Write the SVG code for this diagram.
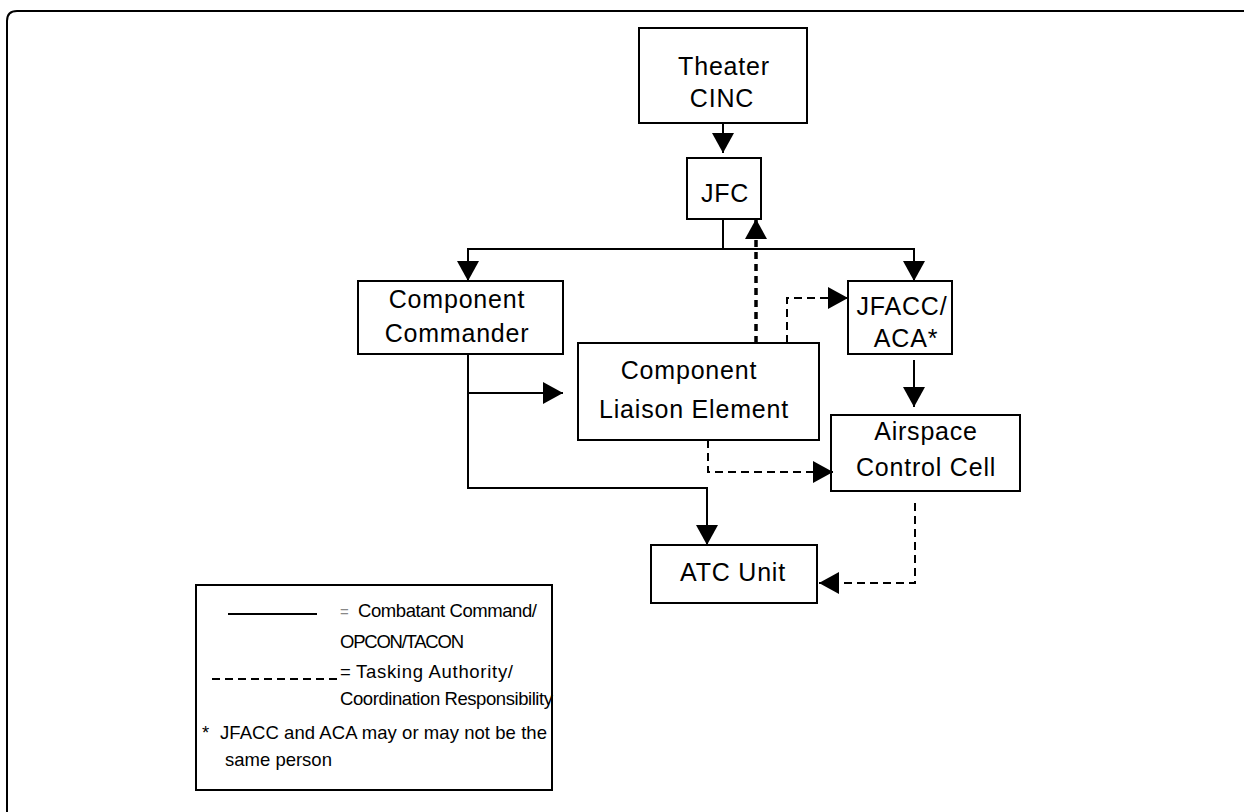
<svg xmlns="http://www.w3.org/2000/svg" width="1244" height="812" viewBox="0 0 1244 812">
<style>
.box{fill:#fff;stroke:#000;stroke-width:2}
.t{font-family:"Liberation Sans",Arial,sans-serif;font-size:25px;letter-spacing:0.8px;text-anchor:middle;fill:#000}
.lt{font-family:"Liberation Sans",Arial,sans-serif;font-size:18.5px;fill:#000}
.eq{font-family:"Liberation Sans",Arial,sans-serif;font-size:15px;fill:#888}
.solid{fill:none;stroke:#000;stroke-width:2}
.dash{fill:none;stroke:#000;stroke-width:2;stroke-dasharray:8 5}
.dashb{fill:none;stroke:#000;stroke-width:3.5;stroke-dasharray:7 5}
</style>
<defs>
<marker id="ah" markerUnits="userSpaceOnUse" markerWidth="20" markerHeight="22" viewBox="0 0 20 22" refX="20" refY="11" orient="auto">
<path d="M0,0 L20,11 L0,22 z" fill="#000"/>
</marker>
</defs>
<rect width="1244" height="812" fill="#fff"/>
<path d="M7 812 V21 Q7 11 17 11 H1244" fill="none" stroke="#000" stroke-width="2"/>

<g id="theater-cinc">
<rect class="box" x="639" y="28" width="168" height="95"/>
<text class="t" x="724" y="75">Theater</text>
<text class="t" x="722" y="107">CINC</text>
</g>
<g id="jfc">
<rect class="box" x="687" y="158" width="74" height="61"/>
<text class="t" x="725" y="202">JFC</text>
</g>
<g id="component-commander">
<rect class="box" x="358" y="281" width="205" height="73"/>
<text class="t" x="457" y="308">Component</text>
<text class="t" x="457" y="342">Commander</text>
</g>
<g id="component-liaison-element">
<rect class="box" x="578" y="343" width="241" height="97"/>
<text class="t" x="689" y="379">Component</text>
<text class="t" x="694" y="418">Liaison Element</text>
</g>
<g id="jfacc-aca">
<rect class="box" x="848" y="281" width="104" height="73"/>
<text class="t" x="902" y="315">JFACC/</text>
<text class="t" x="906" y="347">ACA*</text>
</g>
<g id="airspace-control-cell">
<rect class="box" x="831" y="415" width="189" height="76"/>
<text class="t" x="926" y="440">Airspace</text>
<text class="t" x="926" y="476">Control Cell</text>
</g>
<g id="atc-unit">
<rect class="box" x="651" y="545" width="166" height="58"/>
<text class="t" x="733" y="581">ATC Unit</text>
</g>

<g id="connectors">
<path class="solid" d="M723 123 V153" marker-end="url(#ah)"/>
<path class="solid" d="M723 219 V249"/>
<path class="solid" d="M723 249 H468 V281" marker-end="url(#ah)"/>
<path class="solid" d="M723 249 H914 V281" marker-end="url(#ah)"/>
<path class="solid" d="M468 354 V488 H707 V545" marker-end="url(#ah)"/>
<path class="solid" d="M468 393 H563" marker-end="url(#ah)"/>
<path class="solid" d="M914 360 V407" marker-end="url(#ah)"/>
<path class="dashb" d="M756 343 V219" marker-end="url(#ah)"/>
<path class="dash" d="M787 343 V298 H848" marker-end="url(#ah)"/>
<path class="dash" d="M708 440 V472 H833" marker-end="url(#ah)"/>
<path class="dash" d="M915 503 V583 H819" marker-end="url(#ah)"/>
</g>

<g id="legend">
<rect class="box" x="196" y="585" width="356" height="205"/>
<line class="solid" x1="228" y1="614" x2="317" y2="614"/>
<text class="eq" x="340" y="617">=</text>
<text class="lt" x="358" y="617" textLength="179" lengthAdjust="spacing">Combatant Command/</text>
<text class="lt" x="340" y="648" textLength="124" lengthAdjust="spacing">OPCON/TACON</text>
<line class="dash" x1="212" y1="679" x2="340" y2="679"/>
<text class="lt" x="340" y="678">=</text>
<text class="lt" x="356" y="678" textLength="157" lengthAdjust="spacing">Tasking Authority/</text>
<text class="lt" x="340" y="705" textLength="213" lengthAdjust="spacing">Coordination Responsibility</text>
<text class="lt" x="202" y="739">*</text>
<text class="lt" x="220" y="739" textLength="327" lengthAdjust="spacing">JFACC and ACA may or may not be the</text>
<text class="lt" x="225" y="766">same person</text>
</g>
</svg>
